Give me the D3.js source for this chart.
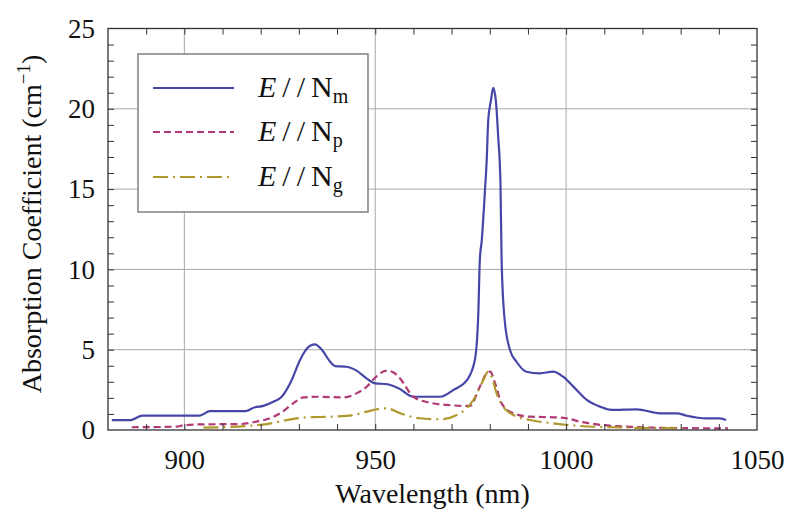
<!DOCTYPE html>
<html>
<head>
<meta charset="utf-8">
<script src="https://cdn.jsdelivr.net/npm/d3@7"></script>
<style>
  html, body { margin: 0; padding: 0; background: #fff; }
  svg text { font-family: "Times New Roman", "Liberation Serif", Times, "DejaVu Serif", "Noto Serif", serif; fill: #111; }
</style>
</head>
<body>
<svg id="chart" width="800" height="525"></svg>
<script>
// ---- data ----
const nmWave = [881, 886, 889, 904, 906.7, 916, 918.5, 920.7, 923.3, 925.5, 928.1, 930.3, 932.6, 934.2, 936, 938.2, 939.5, 942.5, 945.1, 947.8, 950, 953, 956.1, 960, 967, 970.5, 974, 976.1, 977, 977.4, 977.9, 978.8, 979.2, 979.6, 980.3, 980.9, 981.6, 982.2, 982.8, 983.1, 983.9, 985.3, 987, 989.6, 993.1, 996.6, 999.2, 1001.9, 1005.4, 1008.9, 1011.9, 1018.5, 1024.6, 1029, 1031.6, 1036.8, 1040.3, 1041.9];
const nmVals = [0.62, 0.62, 0.9, 0.9, 1.18, 1.18, 1.42, 1.5, 1.76, 2.07, 3.1, 4.36, 5.19, 5.33, 5.0, 4.25, 3.98, 3.94, 3.7, 3.2, 2.9, 2.86, 2.6, 2.07, 2.07, 2.5, 3.1, 4.36, 7.27, 10.6, 11.8, 15.15, 16.8, 19.3, 20.5, 21.3, 20.5, 18.3, 15.4, 10.6, 6.85, 4.98, 4.25, 3.63, 3.53, 3.63, 3.32, 2.7, 1.87, 1.45, 1.25, 1.29, 1.04, 1.04, 0.89, 0.73, 0.73, 0.62];

const npWave = [886.2, 898, 899.7, 904.1, 914.6, 918, 921.6, 925.1, 928.5, 931.2, 934.7, 941.6, 945.1, 947.8, 950.4, 953, 954.7, 956.5, 960, 964.3, 968.7, 974.8, 977.4, 979.2, 980.1, 981.4, 983.1, 986.2, 990.5, 996.6, 1000.1, 1003.6, 1008, 1016.7, 1030, 1042.4];
const npVals = [0.17, 0.21, 0.29, 0.35, 0.37, 0.48, 0.67, 1.04, 1.66, 2.03, 2.07, 2.03, 2.28, 2.7, 3.36, 3.7, 3.6, 3.2, 2.07, 1.7, 1.56, 1.5, 2.7, 3.53, 3.63, 2.9, 1.66, 1.04, 0.83, 0.79, 0.73, 0.52, 0.35, 0.2, 0.12, 0.1];

const ngWave = [905, 916.3, 921.6, 926.8, 932, 939, 944.2, 947.8, 950.4, 953, 956.5, 961.7, 967, 972.2, 975.7, 978.3, 979.6, 980.5, 981.8, 983.5, 986.2, 990.5, 996.6, 1003.6, 1012.4, 1022, 1032];
const ngVals = [0.15, 0.25, 0.37, 0.62, 0.79, 0.83, 0.93, 1.14, 1.29, 1.35, 1.04, 0.73, 0.67, 1.04, 1.87, 3.1, 3.63, 3.32, 2.28, 1.45, 0.93, 0.62, 0.42, 0.25, 0.17, 0.12, 0.1];

const xTickLabels = [900, 950, 1000, 1050];
const yTickLabels = [0, 5, 10, 15, 20, 25];
const seriesNames = ["m", "p", "g"];

// ---- layout ----
const FONT = '"Times New Roman", "Liberation Serif", Times, "DejaVu Serif", serif';
const svg = d3.select("#chart");
const L = 108, R = 757, T = 28.5, B = 430;
const x = d3.scaleLinear().domain([880, 1050]).range([L, R]);
const y = d3.scaleLinear().domain([0, 25]).range([B, T]);

const colors = ["#4646a8", "#b03a76", "#b0992c"];
const dashes = [null, "7,4", "15,5,2,5"];

// grid
const g = svg.append("g");
g.selectAll(".vg").data(xTickLabels.filter(d => d < 1050)).enter().append("line")
  .attr("x1", d => x(d)).attr("x2", d => x(d)).attr("y1", T).attr("y2", B)
  .attr("stroke", "#a8a8a8").attr("stroke-width", 1);
g.selectAll(".hg").data(yTickLabels.filter(d => d > 0 && d < 25)).enter().append("line")
  .attr("x1", L).attr("x2", R).attr("y1", d => y(d)).attr("y2", d => y(d))
  .attr("stroke", "#a8a8a8").attr("stroke-width", 1);

// curves
const series = [
  { w: nmWave, v: nmVals },
  { w: npWave, v: npVals },
  { w: ngWave, v: ngVals }
];
const line = d3.line().x(d => x(d[0])).y(d => y(d[1])).curve(d3.curveMonotoneX);
series.forEach((s, i) => {
  const pts = s.w.map((w, k) => [w, s.v[k]]);
  svg.append("path").datum(pts)
    .attr("d", line)
    .attr("fill", "none")
    .attr("stroke", colors[i])
    .attr("stroke-width", 2.2)
    .attr("stroke-dasharray", dashes[i])
    .attr("stroke-linejoin", "round");
});

// axes (ticks inside, all four sides)
const xMinor = d3.range(890, 1050, 10);
const yMinor = d3.range(1, 25, 1);
const axisColor = "#333";
const tb = svg.append("g").attr("transform", `translate(0,${B})`)
  .call(d3.axisBottom(x).tickValues(xMinor).tickSize(-6).tickFormat(""));
const tt = svg.append("g").attr("transform", `translate(0,${T})`)
  .call(d3.axisTop(x).tickValues(xMinor).tickSize(-6).tickFormat(""));
const tl = svg.append("g").attr("transform", `translate(${L},0)`)
  .call(d3.axisLeft(y).tickValues(yMinor).tickSize(-6).tickFormat(""));
const tr = svg.append("g").attr("transform", `translate(${R},0)`)
  .call(d3.axisRight(y).tickValues(yMinor).tickSize(-6).tickFormat(""));
[tb, tt, tl, tr].forEach(a => {
  a.select(".domain").remove();
  a.selectAll("line").attr("stroke", axisColor).attr("stroke-width", 1);
});

// tick labels via axes
const xl = svg.append("g").attr("transform", `translate(0,${B})`)
  .call(d3.axisBottom(x).tickValues(xTickLabels).tickSize(0).tickPadding(20).tickFormat(d3.format("d")));
xl.attr("font-family", FONT);
xl.select(".domain").remove();
xl.selectAll("text").attr("font-size", 27).attr("font-family", FONT).attr("fill", "#111");
const yl = svg.append("g").attr("transform", `translate(${L},0)`)
  .call(d3.axisLeft(y).tickValues(yTickLabels).tickSize(0).tickPadding(13).tickFormat(d3.format("d")));
yl.attr("font-family", FONT);
yl.select(".domain").remove();
yl.selectAll("text").attr("font-size", 27).attr("font-family", FONT).attr("fill", "#111");

// frame
svg.append("rect").attr("x", L).attr("y", T).attr("width", R - L).attr("height", B - T)
  .attr("fill", "none").attr("stroke", axisColor).attr("stroke-width", 1.3);

// axis titles
svg.append("text").attr("x", (L + R) / 2).attr("y", 503).attr("text-anchor", "middle")
  .attr("font-family", FONT).attr("font-size", 28).text("Wavelength (nm)");
const yt = svg.append("text").attr("transform", "translate(41,224) rotate(-90)")
  .attr("font-family", FONT).attr("text-anchor", "middle").attr("font-size", 28);
yt.append("tspan").text("Absorption Coefficient (cm");
yt.append("tspan").attr("font-size", 19).attr("dy", -11).text("\u22121");
yt.append("tspan").attr("dy", 11).text(")");

// legend
const lg = svg.append("g");
lg.append("rect").attr("x", 138).attr("y", 54).attr("width", 230).attr("height", 158)
  .attr("fill", "#fff").attr("stroke", "#808080").attr("stroke-width", 1.5);
const rowY = [88, 132, 177];
seriesNames.forEach((s, i) => {
  lg.append("line").attr("x1", 153).attr("x2", 234).attr("y1", rowY[i]).attr("y2", rowY[i])
    .attr("stroke", colors[i]).attr("stroke-width", 2.2).attr("stroke-dasharray", dashes[i]);
  const t = lg.append("text").attr("x", 258).attr("y", rowY[i] + 9).attr("font-family", FONT).attr("font-size", 30);
  t.append("tspan").attr("font-style", "italic").text("E");
  t.append("tspan").attr("dx", 6).text("/");
  t.append("tspan").attr("dx", 6).text("/");
  t.append("tspan").attr("dx", 6).text("N");
  t.append("tspan").attr("font-size", 20).attr("dy", 6).text(s);
});
</script>
</body>
</html>
